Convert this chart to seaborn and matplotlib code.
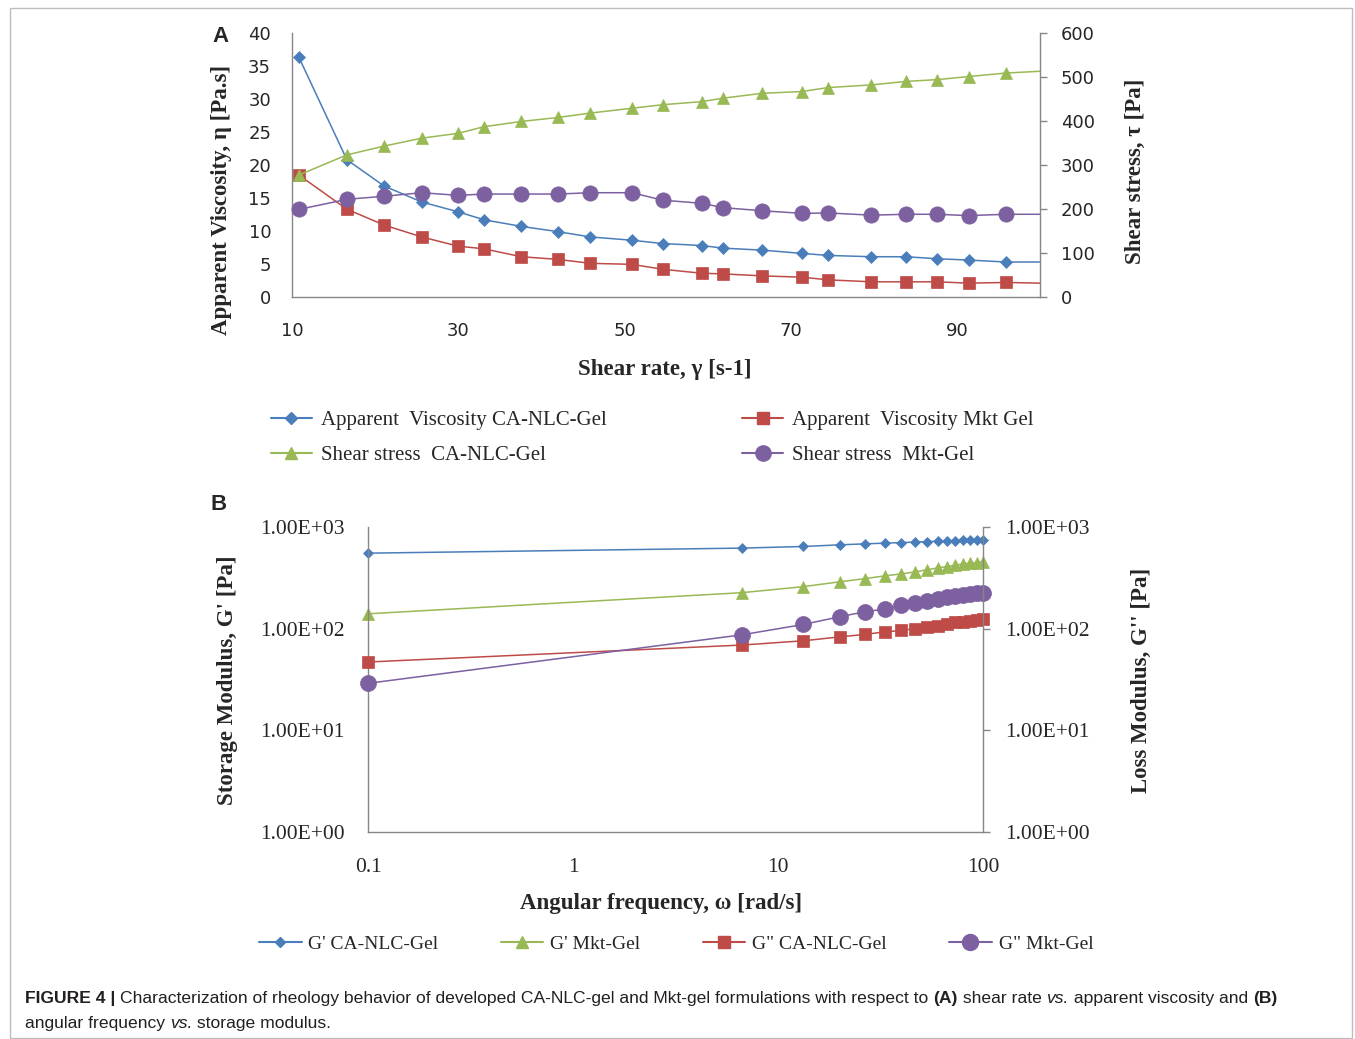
import matplotlib
matplotlib.use('Agg')
import matplotlib.pyplot as plt
import seaborn as sns
from matplotlib.lines import Line2D
from matplotlib.patches import Rectangle

# panel A: shear rate sweep
shear_rate = [10.8, 16.6, 21.1, 25.6, 30.0, 33.1, 37.6, 42.0, 45.9, 50.9, 54.6,
              59.3, 61.9, 66.6, 71.4, 74.5, 79.7, 83.9, 87.6, 91.4, 95.9, 100.0]
visc_ca = [36.4, 20.8, 16.8, 14.4, 12.9, 11.7, 10.7, 9.9, 9.1, 8.6, 8.1,
           7.8, 7.4, 7.1, 6.6, 6.3, 6.1, 6.1, 5.8, 5.6, 5.3, 5.3]
visc_mkt = [18.5, 13.3, 10.9, 9.1, 7.7, 7.3, 6.1, 5.7, 5.1, 4.95, 4.2,
            3.6, 3.5, 3.2, 3.0, 2.6, 2.3, 2.3, 2.3, 2.1, 2.2, 2.1]
stress_ca = [277, 323, 343, 361, 372, 387, 399, 408, 418, 429, 437,
             444, 452, 463, 467, 476, 482, 490, 494, 501, 509, 513]
stress_mkt = [199, 222, 229, 237, 231, 234, 234, 234, 237, 237, 220,
              213, 203, 196, 190, 191, 186, 188, 188, 185, 188, 188]

# panel B: frequency sweep
freq = [0.1, 6.67, 13.3, 20.0, 26.7, 33.3, 40.0, 46.7, 53.3, 60.0, 66.7,
        73.3, 80.0, 86.7, 93.3, 100.0]
g1_ca = [553, 620, 643, 668, 683, 694, 703, 710, 718, 724, 729, 734, 738, 742, 745, 748]
g1_mkt = [140, 226, 259, 289, 311, 331, 346, 362, 379, 396, 408, 421, 434, 441, 447, 454]
g2_ca = [47, 69, 76, 83, 88, 93, 96, 100, 105, 107, 111, 115, 117, 120, 122, 124]
g2_mkt = [29, 87, 110, 131, 147, 156, 169, 178, 189, 196, 204, 210, 215, 220, 223, 226]

a_yticks = [0, 5, 10, 15, 20, 25, 30, 35, 40]
a_y2ticks = [0, 100, 200, 300, 400, 500, 600]
a_xticks = [10, 30, 50, 70, 90]
b_xticks = [0.1, 1, 10, 100]
b_xticklabels = ['0.1', '1', '10', '100']
b_yticks = [1, 10, 100, 1000]
b_yticklabels = ['1.00E+00', '1.00E+01', '1.00E+02', '1.00E+03']

BLUE, RED, GREEN, PURPLE = '#4A7EBB', '#BE4B48', '#98B954', '#7D60A0'
AXC = '#868686'
SERIF = 'Liberation Serif'

sns.set_style('white')
plt.rcParams['font.family'] = ['DejaVu Sans']

W, H = 1355, 1039
fig = plt.figure(figsize=(W / 100, H / 100), dpi=100)


def px_rect(l, t, r, b):
    return [l / W, 1 - b / H, (r - l) / W, (b - t) / H]


def style_axes(ax, right_ax):
    for s in ['top', 'right']:
        ax.spines[s].set_visible(False)
    for s in ['left', 'bottom']:
        ax.spines[s].set_color(AXC)
        ax.spines[s].set_linewidth(1.0)
    for s in ['top', 'left', 'bottom']:
        right_ax.spines[s].set_visible(False)
    right_ax.spines['right'].set_color(AXC)
    right_ax.spines['right'].set_linewidth(1.0)


def draw(ax, x, y, color, marker, ms, skip_last=False):
    kw = {}
    if skip_last:
        kw['markevery'] = list(range(len(x) - 1))
    sns.lineplot(x=x, y=y, ax=ax, color=color, marker=marker, markersize=ms,
                 markeredgecolor=color, markeredgewidth=0.5, linewidth=1.1,
                 legend=False, clip_on=False, **kw)


# ---------------- panel A ----------------
axA = fig.add_axes(px_rect(292, 33, 1040, 297))
axA2 = axA.twinx()
draw(axA, shear_rate, visc_ca, BLUE, 'D', 6, True)
draw(axA, shear_rate, visc_mkt, RED, 's', 8.5, True)
draw(axA2, shear_rate, stress_ca, GREEN, '^', 8.5, True)
draw(axA2, shear_rate, stress_mkt, PURPLE, 'o', 11, True)
axA.set_xlim(10, 100)
axA.set_ylim(0, 40)
axA2.set_ylim(0, 600)
axA.set_xticks(a_xticks)
axA.set_yticks(a_yticks)
axA2.set_yticks(a_y2ticks)
style_axes(axA, axA2)
axA.tick_params(axis='y', length=0, pad=15, labelsize=13)
axA.tick_params(axis='x', length=0, pad=18, labelsize=13)
axA2.tick_params(axis='y', length=5, width=1, color=AXC, pad=10, labelsize=13)

lab_font = dict(family=SERIF, fontsize=16.5, fontweight='bold')
axA.set_ylabel('Apparent Viscosity, η [Pa.s]', va='center', **lab_font)
axA.yaxis.set_label_coords((222 - 292) / 748, (297 - 200) / 264)
axA2.set_ylabel('Shear stress, τ [Pa]', va='center', rotation=90, **lab_font)
axA2.yaxis.set_label_coords((1135 - 292) / 748, (297 - 171) / 264)
axA.set_xlabel('Shear rate, γ [s-1]', va='center', **lab_font)
axA.xaxis.set_label_coords((665 - 292) / 748, (297 - 369) / 264)

# ---------------- panel B ----------------
axB = fig.add_axes(px_rect(368, 527, 983, 832))
axB2 = axB.twinx()
draw(axB, freq, g1_ca, BLUE, 'D', 5.5)
draw(axB, freq, g1_mkt, GREEN, '^', 8.5)
draw(axB2, freq, g2_ca, RED, 's', 9)
draw(axB2, freq, g2_mkt, PURPLE, 'o', 11.5)
for ax in (axB, axB2):
    ax.set_xscale('log')
    ax.set_yscale('log')
    ax.set_ylim(1, 1000)
    ax.set_yticks(b_yticks)
    ax.set_yticklabels(b_yticklabels, fontfamily=SERIF, fontsize=15.5)
    ax.minorticks_off()
axB.set_xlim(0.1, 100)
axB.set_xticks(b_xticks)
axB.set_xticklabels(b_xticklabels, fontfamily=SERIF, fontsize=15.5)
axB.minorticks_off()
style_axes(axB, axB2)
axB.tick_params(axis='y', length=0, pad=17)
axB.tick_params(axis='x', length=0, pad=19)
axB2.tick_params(axis='y', length=5, width=1, color=AXC, pad=11)

axB.set_ylabel("Storage Modulus, G' [Pa]", va='center', **lab_font)
axB.yaxis.set_label_coords((227 - 368) / 615, (832 - 680) / 305)
axB2.set_ylabel("Loss Modulus, G'' [Pa]", va='center', rotation=90, **lab_font)
axB2.yaxis.set_label_coords((1141 - 368) / 615, (832 - 680) / 305)
axB.set_xlabel('Angular frequency, ω [rad/s]', va='center', **lab_font)
axB.xaxis.set_label_coords((661 - 368) / 615, (832 - 904) / 305)


# ---------------- legends ----------------
def handle(color, marker, ms):
    return Line2D([], [], color=color, marker=marker, markersize=ms,
                  markeredgecolor=color, linewidth=1.5)


fig.legend([handle(BLUE, 'D', 6), handle(GREEN, '^', 8.5),
            handle(RED, 's', 8.5), handle(PURPLE, 'o', 11)],
           ['Apparent  Viscosity CA-NLC-Gel', 'Shear stress  CA-NLC-Gel',
            'Apparent  Viscosity Mkt Gel', 'Shear stress  Mkt-Gel'],
           loc='center', bbox_to_anchor=(652 / W, 1 - 438 / H), ncol=2,
           frameon=False, prop=dict(family=SERIF, size=15), handlelength=2.0,
           handletextpad=0.4, columnspacing=6.5, labelspacing=0.75, borderpad=0)
fig.legend([handle(BLUE, 'D', 5.5), handle(GREEN, '^', 8.5),
            handle(RED, 's', 9), handle(PURPLE, 'o', 11.5)],
           ["G' CA-NLC-Gel", "G' Mkt-Gel", 'G" CA-NLC-Gel', 'G" Mkt-Gel'],
           loc='center', bbox_to_anchor=(676 / W, 1 - 944 / H), ncol=4,
           frameon=False, prop=dict(family=SERIF, size=14), handlelength=2.2,
           handletextpad=0.35, columnspacing=3.2, borderpad=0)

# panel letters
fig.text(212 / W, 1 - 37 / H, 'A', family='Liberation Sans', fontsize=16,
         fontweight='bold', va='center', ha='left')
fig.text(210 / W, 1 - 505 / H, 'B', family='Liberation Sans', fontsize=16,
         fontweight='bold', va='center', ha='left')

# frame around the figure
fig.add_artist(Rectangle((10 / W, 1 - 1038 / H), 1342 / W, 1030 / H,
                         transform=fig.transFigure, fill=False,
                         edgecolor='#BDBDBD', linewidth=1))

# caption with mixed styles, laid out piece by piece
renderer = fig.canvas.get_renderer()
cap_lines = [
    [('FIGURE 4 | ', 'bold', 'normal'),
     ('Characterization of rheology behavior of developed CA-NLC-gel and Mkt-gel '
      'formulations with respect to ', 'normal', 'normal'),
     ('(A)', 'bold', 'normal'), (' shear rate ', 'normal', 'normal'),
     ('vs.', 'normal', 'italic'), (' apparent viscosity and ', 'normal', 'normal'),
     ('(B)', 'bold', 'normal')],
    [('angular frequency ', 'normal', 'normal'), ('vs.', 'normal', 'italic'),
     (' storage modulus.', 'normal', 'normal')],
]
for i, parts in enumerate(cap_lines):
    x = 25
    y = 1 - (1003 + 25 * i) / H
    for txt, weight, style in parts:
        t = fig.text(x / W, y, txt, family='Liberation Sans', fontsize=12.6,
                     fontweight=weight, fontstyle=style, va='baseline',
                     ha='left', color='#231F20')
        x += t.get_window_extent(renderer).width

fig.savefig('out.png', dpi=100)
